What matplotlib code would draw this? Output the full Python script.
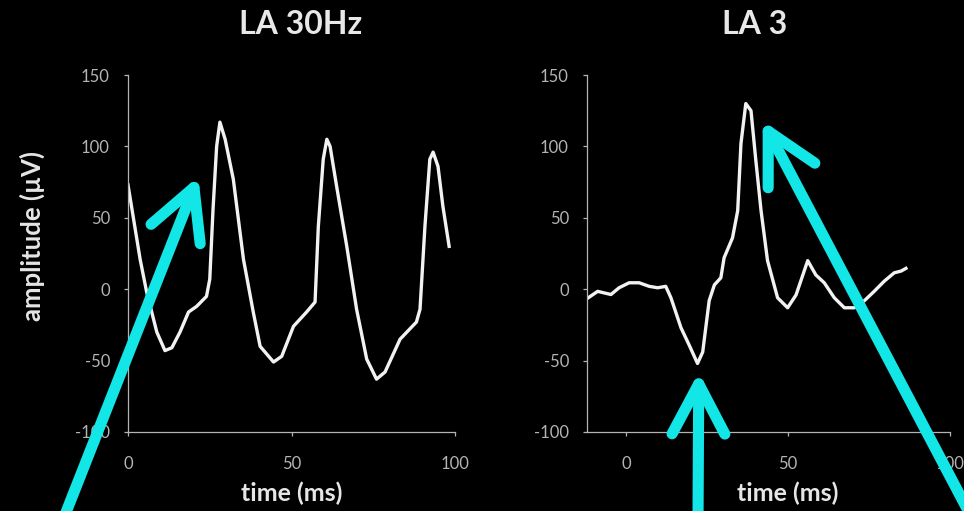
import matplotlib
matplotlib.use('Agg')
from matplotlib import pyplot as plt

plt.rcParams['font.family'] = ['Lato', 'DejaVu Sans']
plt.rcParams['axes.unicode_minus'] = False

# LA recording at 30 Hz pacing
t_30hz = [0, 3.7, 5.7, 8.8, 11.3, 13.4, 15.9, 18.5, 21, 24, 25, 26, 27.1, 28.1,
          29.7, 32.2, 35.3, 38.3, 40.4, 44.5, 47, 50.6, 54.6, 57.2, 58.2, 59.7,
          60.8, 61.8, 63.8, 66.9, 69.9, 73, 76, 78.6, 83.2, 88.2, 89.3, 90.8,
          92.3, 93.3, 94.8, 96.3, 98.2]
v_30hz = [73, 21, -2, -30, -43, -41, -30, -16, -12, -5, 7, 56, 100, 117,
          105, 77, 21, -16, -40, -51, -47, -26, -16, -9, 44, 91,
          105, 100, 72, 30, -14, -49, -63, -58, -35, -23, -14, 44,
          91, 96, 86, 58, 30]

# LA site 3
t_la3 = [-11.6, -8.7, -6.7, -4.6, -2.1, 1, 4.1, 7.2, 9.8, 12.3, 13.9, 17, 19.5,
         22.1, 23.7, 25.7, 27.3, 29.3, 30.3, 32.9, 34.5, 35.5, 37, 38.6, 40.1,
         41.7, 43.7, 46.8, 49.9, 52.5, 56.1, 58.6, 61.2, 64.3, 67.4, 70.5,
         73.6, 76.6, 79.7, 82.8, 84.9, 86.4]
v_la3 = [-6, -1.5, -2.6, -3.7, 1, 4.5, 4.5, 2, 1, 2, -6, -27, -39,
         -52, -44, -8, 3, 8, 22, 36, 55, 102, 130, 125, 90,
         55, 20, -6, -13, -4, 20, 10, 4.5, -6, -13, -13,
         -8, -1.5, 5.6, 11.5, 12.7, 14.6]

titles = ['LA 30Hz', 'LA 3']
xlims = [(0, 100), (-12, 100)]
y_ticks = [-100, -50, 0, 50, 100, 150]
x_ticks = [0, 50, 100]

# arrow tips (data units) and tails (figure pixels)
arrow_tips = [(21.5, 79), (22.5, -58), (42.2, 118)]
arrow_tails = [(63, -9), (698, -10), (973, -9)]
arrow_axes = [0, 1, 1]

cyan = '#12e6e6'
grey = '#b4b4b4'

fig = plt.figure(figsize=(9.64, 5.11), dpi=100, facecolor='black')
ax1 = fig.add_axes([0.1328, 0.1546, 0.3392, 0.6986])
ax2 = fig.add_axes([0.6089, 0.1546, 0.3766, 0.6986])
axes = [ax1, ax2]

for ax, t, v, title, xl in zip(axes, [t_30hz, t_la3], [v_30hz, v_la3], titles, xlims):
    ax.set_facecolor('black')
    ax.plot(t, v, color='#f2f2f2', lw=2.4, solid_joinstyle='round')
    ax.set_xlim(*xl)
    ax.set_ylim(-100, 150)
    ax.set_yticks(y_ticks)
    ax.set_xticks(x_ticks)
    for s in ['top', 'right']:
        ax.spines[s].set_visible(False)
    for s in ['left', 'bottom']:
        ax.spines[s].set_color(grey)
        ax.spines[s].set_linewidth(0.9)
    ax.tick_params(colors=grey, labelcolor=grey, labelsize=12, length=3, width=0.9)
    ax.tick_params(axis='y', pad=10)
    ax.tick_params(axis='x', pad=14)
    # x axis label sits under t = 50
    ax.text(50, -0.172, 'time (ms)', transform=ax.get_xaxis_transform(),
            ha='center', va='center', color='#e6e6e6', fontsize=18, fontweight='bold')

fig.text(301 / 964, 1 - 24 / 511, titles[0], ha='center', va='center',
         color='#e8e8e8', fontsize=23, fontweight='bold')
fig.text(755 / 964, 1 - 24 / 511, titles[1], ha='center', va='center',
         color='#e8e8e8', fontsize=23, fontweight='bold')
fig.text(32 / 964, 1 - 236 / 511, 'amplitude (µV)', rotation=90, ha='center', va='center',
         color='#e6e6e6', fontsize=18.5, fontweight='bold')

for tip, tail, i in zip(arrow_tips, arrow_tails, arrow_axes):
    axes[i].annotate('', xy=tip, xycoords='data', xytext=tail, textcoords='figure pixels',
                     annotation_clip=False,
                     arrowprops=dict(arrowstyle='->,head_length=1.8,head_width=0.95',
                                     mutation_scale=20, lw=8, color=cyan,
                                     shrinkA=0, shrinkB=0, capstyle='round',
                                     joinstyle='round'))

fig.savefig('out.png', dpi=100, facecolor='black')
